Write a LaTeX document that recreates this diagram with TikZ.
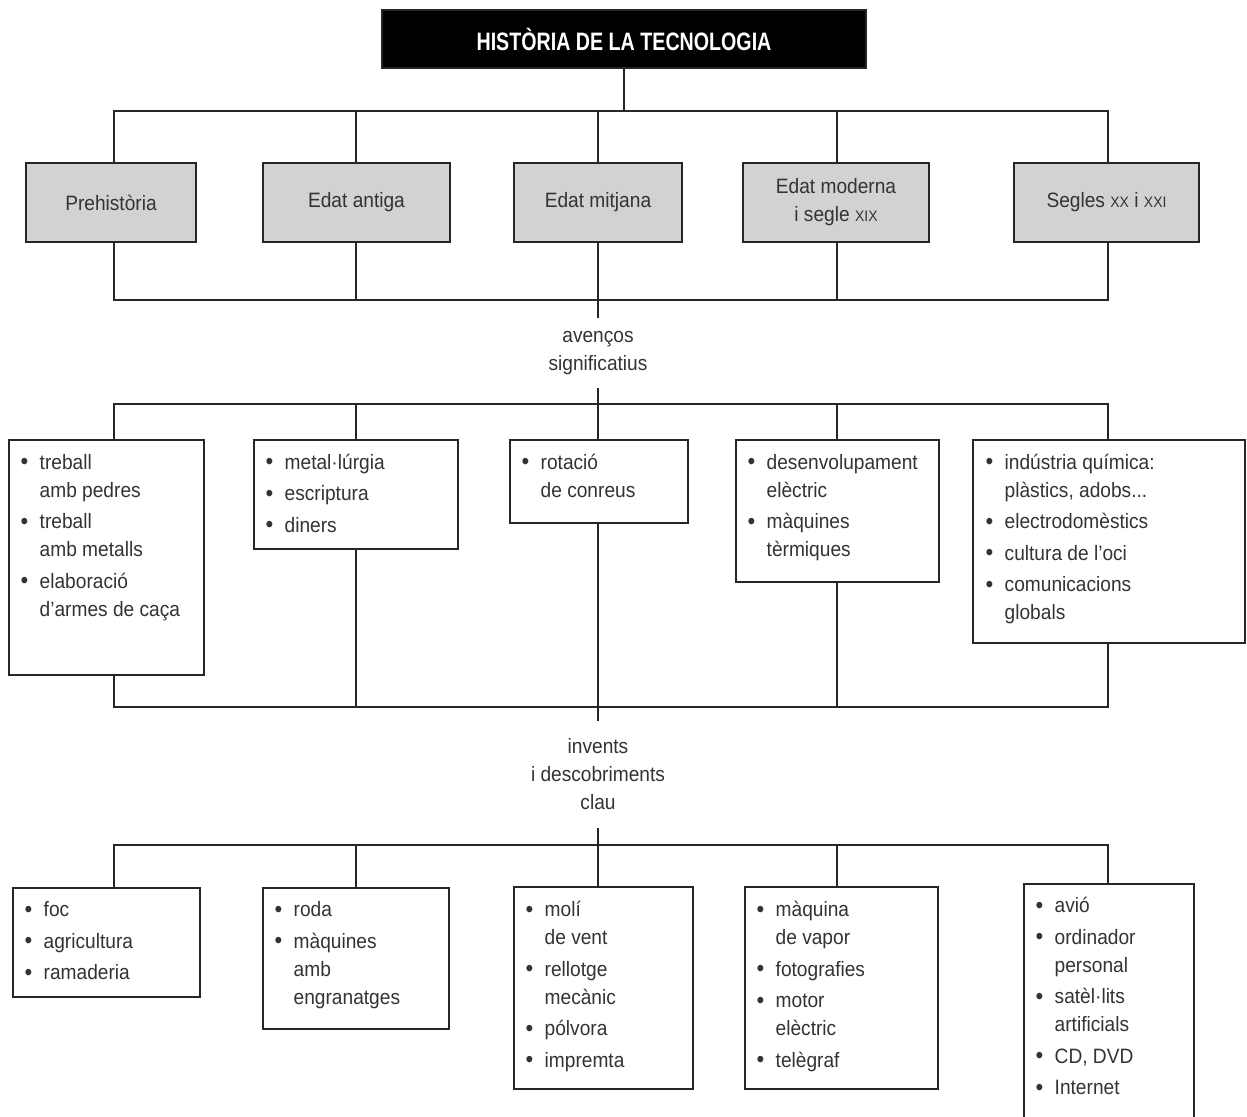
\documentclass[tikz,border=0pt]{standalone}
\usepackage{fontspec}
\setmainfont{Liberation Sans}[FakeStretch=0.92]
\newfontfamily\titlefont{Liberation Sans}[FakeStretch=0.78]
\usetikzlibrary{fit,calc}
\definecolor{lgray}{HTML}{D1D2D4}
\definecolor{ink}{HTML}{262626}
\definecolor{txt}{HTML}{333333}
\newcommand{\bul}{\makebox[9.5pt][l]{\raisebox{-0.2pt}{\scalebox{1.15}{\textbullet}}}}
\newcommand{\ind}{\hspace*{9.5pt}}
\newcommand{\sm}[1]{{\fontsize{7.6}{9}\selectfont #1}}
\newcommand{\gap}{\\[1.75pt]}
\newcommand{\bodyfont}{\fontsize{10.4}{14}\selectfont}
\begin{document}
\begin{tikzpicture}[x=0.5pt,y=-0.5pt,
  every node/.style={text=txt},
  conn/.style={draw=ink, line width=0.7pt, line cap=rect},
  titlebox/.style={draw=ink, line width=0.7pt, fill=black, inner sep=0pt},
  periodbox/.style={draw=ink, line width=0.7pt, fill=lgray, inner sep=0pt, align=center, font=\bodyfont, minimum height=39.5pt},
  listbox/.style={draw=ink, line width=0.7pt, fill=white, inner sep=0pt},
  listtxt/.style={anchor=base west, inner sep=0pt, font=\bodyfont},
  midlabel/.style={inner sep=0pt, align=center, font=\bodyfont}]
\clip (0,0) rectangle (1247,1116);
% column and row coordinates
\coordinate (c1) at (114,0);
\coordinate (c2) at (356,0);
\coordinate (c3) at (598,0);
\coordinate (c4) at (837,0);
\coordinate (c5) at (1108,0);
\coordinate (h1) at (0,111);
\coordinate (h2) at (0,300);
\coordinate (h3) at (0,404);
\coordinate (h4) at (0,707);
\coordinate (h5) at (0,845);
% title
\node[titlebox, minimum width=242pt, minimum height=29pt, text=white,
  font=\titlefont\fontsize{12.6}{14}\selectfont\bfseries] (t) at (624,39) {HISTÒRIA DE LA TECNOLOGIA};
% level 1
\node[periodbox, minimum width=85pt] (p1) at (111,202.5) {Prehistòria};
\node[periodbox, minimum width=93.5pt] (p2) at (356.5,202.5) {Edat antiga};
\node[periodbox, minimum width=84pt] (p3) at (598,202.5) {Edat mitjana};
\node[periodbox, minimum width=93pt] (p4) at (836,202.5) {Edat moderna\\i segle \sm{XIX}};
\node[periodbox, minimum width=92.5pt] (p5) at (1106.5,202.5) {Segles \sm{XX} i \sm{XXI}};
% middle labels
\node[midlabel, minimum height=35pt] (lab1) at (598,353) {avenços\\significatius};
\node[midlabel, minimum height=53.5pt] (lab2) at (598,774.5) {invents\\i descobriments\\clau};
% level 2 boxes
\node[listbox, fit={(9,440) (204,675)}] (q1) {};
\node[listbox, fit={(254,440) (458,549)}] (q2) {};
\node[listbox, fit={(510,440) (688,523)}] (q3) {};
\node[listbox, fit={(736,440) (939,582)}] (q4) {};
\node[listbox, fit={(973,440) (1245,643)}] (q5) {};
% level 3 boxes
\node[listbox, fit={(13,888) (200,997)}] (r1) {};
\node[listbox, fit={(263,888) (449,1029)}] (r2) {};
\node[listbox, fit={(514,887) (693,1089)}] (r3) {};
\node[listbox, fit={(745,887) (938,1089)}] (r4) {};
\node[listbox, fit={(1024,884) (1194,1140)}] (r5) {};
% level 2 texts
\node[listtxt] (q1t) at ($(q1.north west)+(12,30)$) {\begin{tabular}[t]{@{}l@{}}
\bul treball\\ \ind amb pedres\gap
\bul treball\\ \ind amb metalls\gap
\bul elaboració\\ \ind d’armes de caça
\end{tabular}};
\node[listtxt] (q2t) at ($(q2.north west)+(12,30)$) {\begin{tabular}[t]{@{}l@{}}
\bul metal·lúrgia\gap
\bul escriptura\gap
\bul diners
\end{tabular}};
\node[listtxt] (q3t) at ($(q3.north west)+(12,30)$) {\begin{tabular}[t]{@{}l@{}}
\bul rotació\\ \ind de conreus
\end{tabular}};
\node[listtxt] (q4t) at ($(q4.north west)+(12,30)$) {\begin{tabular}[t]{@{}l@{}}
\bul desenvolupament\\ \ind elèctric\gap
\bul màquines\\ \ind tèrmiques
\end{tabular}};
\node[listtxt] (q5t) at ($(q5.north west)+(13,30)$) {\begin{tabular}[t]{@{}l@{}}
\bul indústria química:\\ \ind plàstics, adobs...\gap
\bul electrodomèstics\gap
\bul cultura de l’oci\gap
\bul comunicacions\\ \ind globals
\end{tabular}};
% level 3 texts
\node[listtxt] (r1t) at ($(r1.north west)+(12,29.5)$) {\begin{tabular}[t]{@{}l@{}}
\bul foc\gap
\bul agricultura\gap
\bul ramaderia
\end{tabular}};
\node[listtxt] (r2t) at ($(r2.north west)+(12,29.5)$) {\begin{tabular}[t]{@{}l@{}}
\bul roda\gap
\bul màquines\\ \ind amb\\ \ind engranatges
\end{tabular}};
\node[listtxt] (r3t) at ($(r3.north west)+(12,30.5)$) {\begin{tabular}[t]{@{}l@{}}
\bul molí\\ \ind de vent\gap
\bul rellotge\\ \ind mecànic\gap
\bul pólvora\gap
\bul impremta
\end{tabular}};
\node[listtxt] (r4t) at ($(r4.north west)+(12,30.5)$) {\begin{tabular}[t]{@{}l@{}}
\bul màquina\\ \ind de vapor\gap
\bul fotografies\gap
\bul motor\\ \ind elèctric\gap
\bul telègraf
\end{tabular}};
\node[listtxt] (r5t) at ($(r5.north west)+(12,29.5)$) {\begin{tabular}[t]{@{}l@{}}
\bul avió\gap
\bul ordinador\\ \ind personal\gap
\bul satèl·lits\\ \ind artificials\gap
\bul CD, DVD\gap
\bul Internet
\end{tabular}};
% connectors
\draw[conn] (t.south) -- (t.south |- h1);
\draw[conn] (c1|-h1) -- (c5|-h1);
\draw[conn] (c1|-h2) -- (c5|-h2);
\draw[conn] (c1|-h3) -- (c5|-h3);
\draw[conn] (c1|-h4) -- (c5|-h4);
\draw[conn] (c1|-h5) -- (c5|-h5);
\foreach \i in {1,...,5}{
  \draw[conn] (c\i|-h1) -- (c\i|-p\i.north);
  \draw[conn] (c\i|-p\i.south) -- (c\i|-h2);
  \draw[conn] (c\i|-h3) -- (c\i|-q\i.north);
  \draw[conn] (c\i|-q\i.south) -- (c\i|-h4);
  \draw[conn] (c\i|-h5) -- (c\i|-r\i.north);
}
\draw[conn] (c3|-h2) -- (lab1.north);
\draw[conn] (lab1.south) -- (c3|-h3);
\draw[conn] (c3|-h4) -- (lab2.north);
\draw[conn] (lab2.south) -- (c3|-h5);
\end{tikzpicture}
\end{document}
